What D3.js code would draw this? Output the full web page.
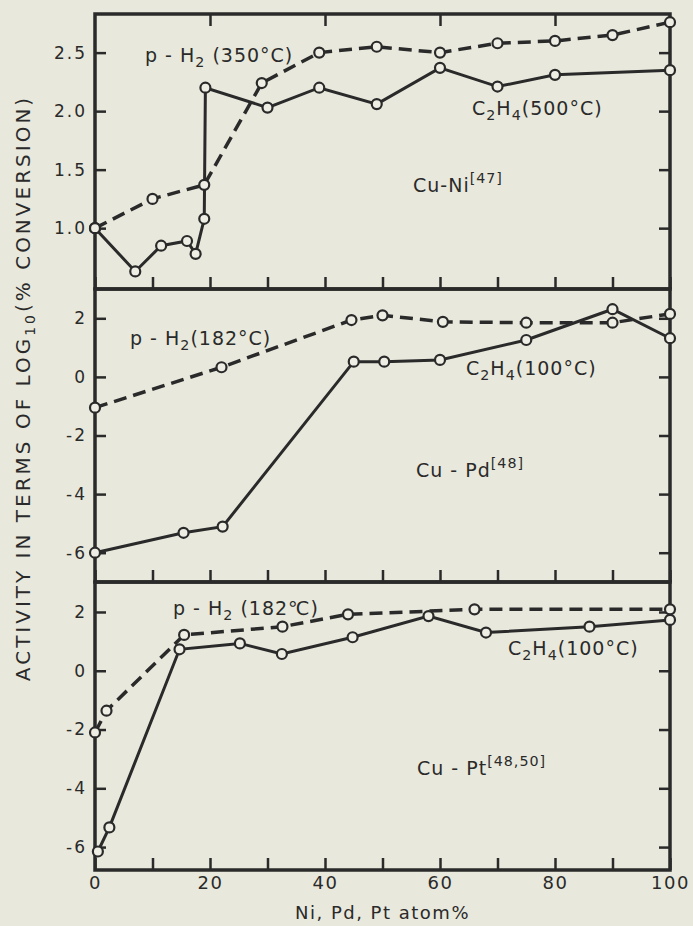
<!DOCTYPE html>
<html>
<head>
<meta charset="utf-8">
<script src="https://cdn.jsdelivr.net/npm/d3@7"></script>
<style>
  body { margin: 0; background: #e8e8dc; }
  svg { display: block; }
  text { font-family: "DejaVu Sans", sans-serif; fill: #2a2a2a; }
</style>
</head>
<body>
<svg width="693" height="926"></svg>
<script>
// ---- data: [atom %, log10(% conversion)] ----
const niH2 = [[0, 1.0], [10, 1.25], [19, 1.37], [29, 2.24], [39, 2.50], [49, 2.55],
              [60, 2.50], [70, 2.58], [80, 2.60], [90, 2.65], [100, 2.76]];
const niC2H4 = [[0, 1.0], [7, 0.63], [11.5, 0.85], [16, 0.89], [17.5, 0.78], [19, 1.08],
                [19.2, 2.20], [30, 2.03], [39, 2.20], [49, 2.06], [60, 2.37], [70, 2.21],
                [80, 2.31], [100, 2.35]];
const pdH2 = [[0, -1.05], [22, 0.33], [44.6, 1.94], [50, 2.1], [60.5, 1.88], [75, 1.85],
              [90, 1.85], [100, 2.15]];
const pdC2H4 = [[0, -6.0], [15.4, -5.32], [22.2, -5.11], [45, 0.52], [50.3, 0.52],
                [60, 0.58], [75, 1.26], [90, 2.31], [100, 1.32]];
const ptH2 = [[0, -2.1], [2, -1.36], [15.5, 1.22], [32.6, 1.5], [44, 1.92], [66, 2.09], [100, 2.09]];
const ptC2H4 = [[0.5, -6.15], [2.5, -5.33], [14.7, 0.73], [25.2, 0.93], [32.5, 0.57],
                [44.8, 1.14], [58, 1.86], [68, 1.30], [86, 1.5], [100, 1.73]];

const niTicks = [1.0, 1.5, 2.0, 2.5];
const pdTicks = [-6, -4, -2, 0, 2];
const ptTicks = [-6, -4, -2, 0, 2];
const xTicks = d3.range(0, 101, 10);

const svg = d3.select("svg");
const ink = "#2a2a2a";

const x = d3.scaleLinear().domain([0, 100]).range([95, 670]);

const panels = [
  { h2: niH2, c2: niC2H4, ticks: niTicks, domain: [0.48, 2.83], top: 14, bottom: 289,
    fmt: d3.format(".1f"), topTicks: [20, 40, 60, 80],
    labels: [
      { x: 145, y: 62, parts: [["p - H"], ["2", "sub"], ["  (350°C)"]] },
      { x: 472, y: 115, parts: [["C"], ["2", "sub"], ["H"], ["4", "sub"], ["(500°C)"]] },
      { x: 413, y: 192, parts: [["Cu-Ni"], ["[47]", "sup"]] }
    ] },
  { h2: pdH2, c2: pdC2H4, ticks: pdTicks, domain: [-7, 3], top: 289, bottom: 582,
    fmt: d => d < 0 ? "-" + Math.abs(d) : d, topTicks: [],
    labels: [
      { x: 130, y: 345, parts: [["p - H"], ["2", "sub"], ["(182°C)"]] },
      { x: 466, y: 375, parts: [["C"], ["2", "sub"], ["H"], ["4", "sub"], ["(100°C)"]] },
      { x: 416, y: 477, parts: [["Cu - Pd"], ["[48]", "sup"]] }
    ] },
  { h2: ptH2, c2: ptC2H4, ticks: ptTicks, domain: [-6.78, 3.02], top: 582, bottom: 870,
    fmt: d => d < 0 ? "-" + Math.abs(d) : d, topTicks: [],
    labels: [
      { x: 173, y: 615, parts: [["p - H"], ["2", "sub"], [" (182℃)"]] },
      { x: 508, y: 655, parts: [["C"], ["2", "sub"], ["H"], ["4", "sub"], ["(100°C)"]] },
      { x: 417, y: 775, parts: [["Cu - Pt"], ["[48,50]", "sup"]] }
    ] }
];

function richText(g, l, size) {
  const t = g.append("text").attr("x", l.x).attr("y", l.y)
    .style("font-size", size + "px").style("letter-spacing", "1px");
  let shift = 0;
  l.parts.forEach(([s, kind]) => {
    let target = 0;
    if (kind === "sub") target = 5;
    if (kind === "sup") target = -9;
    t.append("tspan")
      .attr("dy", target - shift)
      .style("font-size", kind ? (size * 0.75) + "px" : size + "px")
      .text(s);
    shift = target;
  });
}

panels.forEach((p, i) => {
  const y = d3.scaleLinear().domain(p.domain).range([p.bottom, p.top]);
  const g = svg.append("g");

  // left axis, ticks pointing into the plot
  const yl = g.append("g").attr("transform", `translate(${x(0)},0)`)
    .call(d3.axisLeft(y).tickValues(p.ticks).tickSize(-11).tickSizeOuter(0)
      .tickPadding(8).tickFormat(p.fmt));
  yl.select(".domain").remove();
  yl.selectAll("line").attr("stroke", ink).attr("stroke-width", 2.5);
  yl.selectAll("text").style("font-size", "17px").style("letter-spacing", "2px")
    .attr("fill", ink);

  // right axis
  const yr = g.append("g").attr("transform", `translate(${x(100)},0)`)
    .call(d3.axisRight(y).tickValues(p.ticks).tickSize(-11).tickFormat(""));
  yr.select(".domain").remove();
  yr.selectAll("line").attr("stroke", ink).attr("stroke-width", 2.5);

  // bottom ticks (labels only on the last panel)
  const last = i === panels.length - 1;
  const xb = g.append("g").attr("transform", `translate(0,${p.bottom})`)
    .call(d3.axisBottom(x).tickValues(xTicks).tickSize(-12).tickPadding(6)
      .tickFormat(d => last && d % 20 === 0 ? d : ""));
  xb.select(".domain").remove();
  xb.selectAll("line").attr("stroke", ink).attr("stroke-width", 2.5);
  xb.selectAll("text").style("font-size", "18px").style("letter-spacing", "1.5px")
    .attr("fill", ink);

  if (p.topTicks.length) {
    const xt = g.append("g").attr("transform", `translate(0,${p.top})`)
      .call(d3.axisTop(x).tickValues(p.topTicks).tickSize(-12).tickFormat(""));
    xt.select(".domain").remove();
    xt.selectAll("line").attr("stroke", ink).attr("stroke-width", 2.5);
  }

  // frame
  g.append("rect")
    .attr("x", x(0)).attr("y", p.top)
    .attr("width", x(100) - x(0)).attr("height", p.bottom - p.top)
    .attr("fill", "none").attr("stroke", ink).attr("stroke-width", 3.5);

  const line = d3.line().x(d => x(d[0])).y(d => y(d[1]));

  g.append("path").datum(p.h2).attr("d", line)
    .attr("fill", "none").attr("stroke", ink).attr("stroke-width", 3.5)
    .attr("stroke-dasharray", "13 7");
  g.append("path").datum(p.c2).attr("d", line)
    .attr("fill", "none").attr("stroke", ink).attr("stroke-width", 3);

  g.selectAll("circle.pt").data(p.h2.concat(p.c2)).join("circle")
    .attr("cx", d => x(d[0])).attr("cy", d => y(d[1])).attr("r", 5)
    .attr("fill", "#eeeee4").attr("stroke", ink).attr("stroke-width", 2.2);

  p.labels.forEach(l => richText(g, l, 19));
});

// axis titles
svg.append("text")
  .attr("x", x(50)).attr("y", 919).attr("text-anchor", "middle")
  .style("font-size", "18px").style("letter-spacing", "1.5px")
  .text("Ni, Pd, Pt atom%");

const yt = svg.append("text")
  .attr("transform", "translate(30,388) rotate(-90)")
  .attr("text-anchor", "middle")
  .style("font-size", "20px").style("letter-spacing", "3px");
yt.append("tspan").text("ACTIVITY IN TERMS OF LOG");
yt.append("tspan").attr("dy", 5).style("font-size", "14px").text("10");
yt.append("tspan").attr("dy", -5).text("(% CONVERSION)");
</script>
</body>
</html>
